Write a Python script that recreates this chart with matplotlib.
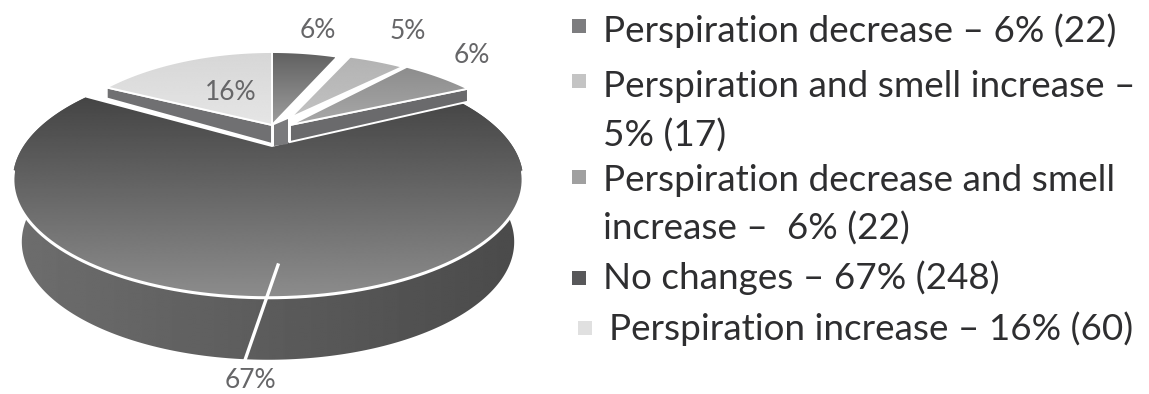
import numpy as np
import matplotlib
matplotlib.use("Agg")
import matplotlib.pyplot as plt
from matplotlib.patches import Polygon

plt.rcParams['font.family'] = ['Lato', 'DejaVu Sans']

# slices, clockwise from the top
counts = [22, 17, 22, 248, 60]
percent_labels = ['6%', '5%', '6%', '67%', '16%']
legend_lines = [
    'Perspiration decrease – 6% (22)',
    'Perspiration and smell increase –',
    '5% (17)',
    'Perspiration decrease and smell',
    'increase –  6% (22)',
    'No changes – 67% (248)',
    'Perspiration increase – 16% (60)',
]

CX, CY = 268, 147   # centre of the rim, seen in perspective
APEX_X = 272        # the big slice has its point here
A, B, K = 108.7, 245, 0.279
DEPTH = 62


def project(theta, scale_x=1.0):
    """
    circle seen in perspective, theta in degrees clockwise from the top
    """
    t = np.radians(theta)
    u, v = np.sin(t), np.cos(t)
    d = 1 + K * v
    return CX + scale_x * B * u / d, CY - A * v / d


def gradient_fill(ax, poly, c0, c1, vertical=True):
    """
    fill a polygon with a grey ramp, clipped by the polygon
    """
    pts = np.array(poly)
    x0, y0 = pts.min(axis=0)
    x1, y1 = pts.max(axis=0)
    ramp = np.linspace(c0, c1, 256)
    img = ramp[:, None] if vertical else ramp[None, :]
    im = ax.imshow(img, extent=(x0, x1, y1, y0), origin='upper', cmap='gray',
                   vmin=0, vmax=1, aspect='auto', zorder=ax_z[0], interpolation='bilinear')
    patch = Polygon(pts, closed=True, transform=ax.transData, fc='none', ec='none')
    ax.add_patch(patch)
    im.set_clip_path(patch)
    ax_z[0] += 1


ax_z = [1]
fig = plt.figure(figsize=(11.49, 3.94), dpi=100)
ax = fig.add_axes([0, 0, 1, 1])

edges = np.concatenate([[0], np.cumsum(counts)]) / sum(counts) * 360

# big slice: side first, then the top
th = np.linspace(edges[3], edges[4], 300)
rx, ry = project(th)
lx, ly = project(th, 0.965)
side = list(zip(rx, ry)) + list(zip(lx[::-1], ly[::-1] + DEPTH))
gradient_fill(ax, side, 0.43, 0.29, vertical=False)
top = [(APEX_X, CY)] + list(zip(rx, ry))
gradient_fill(ax, top, 0.27, 0.55)
front = (th > 102) & (th < 258)
ax.plot(rx[front], ry[front], color='white', lw=2.2, zorder=ax_z[0], solid_capstyle='round')
ax_z[0] += 1

# leader of the big slice
ax.plot([278, 245], [265, 360], color='white', lw=2.4, zorder=ax_z[0])

# small slices, pulled up and away from the big one
small = [
    (0, 1, 4, 125, 0.92, 0.38, 0.62),
    (1, 2, 11, 118, 1.00, 0.70, 0.76),
    (2, 3, 15, 125, 1.00, 0.55, 0.66),
    (4, 5, 4, 125, 0.906, 0.84, 0.90),
]
ax_z[0] = 20
for i, j, dx, apex_y, sx, c0, c1 in small:
    a0, a1 = edges[i], edges[j]
    th = np.linspace(a0, a1, 60)
    px, py = project(th, sx)
    px = px + dx
    py = py - 10
    apex = (APEX_X + (18 if i in (1, 2) else 0), apex_y)
    # thickness showing on the front edges
    if i == 4:
        sd = [apex, (px[0], py[0]), (px[0], py[0] + 11), (apex[0], apex[1] + 19)]
        ax.add_patch(Polygon(sd, closed=True, fc='#707072', ec='white', lw=1.4, zorder=ax_z[0]))
    if i == 2:
        sd = [apex, (px[-1], py[-1]), (px[-1], py[-1] + 13), (apex[0], apex[1] + 17)]
        ax.add_patch(Polygon(sd, closed=True, fc='#6a6a6c', ec='white', lw=1.4, zorder=ax_z[0]))
    if i == 0:
        sd = [(APEX_X + 2, apex_y), (APEX_X + 16, apex_y - 6), (APEX_X + 16, apex_y + 19), (APEX_X + 2, apex_y + 21)]
        ax.add_patch(Polygon(sd, closed=True, fc='#7a7a7c', ec='none', zorder=ax_z[0]))
    ax_z[0] += 1
    poly = [apex] + list(zip(px, py))
    gradient_fill(ax, poly, c0, c1)
    ax.add_patch(Polygon(poly, closed=True, fc='none', ec='white', lw=1.4, zorder=ax_z[0]))
    ax_z[0] += 1

# percent labels
label_pos = [(318, 30), (408, 31), (472, 55), (250, 380), (231, 92)]
for txt, (x, y) in zip(percent_labels, label_pos):
    ax.text(x, y, txt, fontsize=19, color='#666668', ha='center', va='center', zorder=60)

# legend, drawn by hand to keep the wrapped lines
line_y = [31, 86, 136, 180, 229, 278, 329]
line_x = [603, 603, 603, 603, 603, 603, 609]
for txt, x, y in zip(legend_lines, line_x, line_y):
    ax.text(x, y, txt, fontsize=26.6, color='#2e2e30', ha='left', va='center', zorder=60)

sq_x = [579, 579, 579, 579, 585]
sq_y = [26, 81, 177, 278, 328]
sq_col = ['#7d7d7f', '#c4c4c4', '#a0a0a0', '#58585a', '#e0e0e0']
ax.scatter(sq_x, sq_y, marker='s', s=90, c=sq_col, linewidths=0, zorder=60)

ax.set_xlim(0, 1149)
ax.set_ylim(394, 0)
ax.axis('off')
fig.savefig('out.png', dpi=100)
